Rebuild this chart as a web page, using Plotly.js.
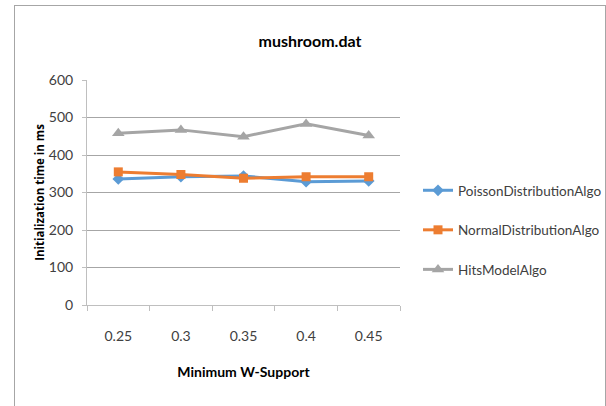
<!DOCTYPE html>
<html><head><meta charset="utf-8">
<script src="https://cdn.plot.ly/plotly-3.0.1.min.js"></script>
<style>
html,body{margin:0;padding:0;background:#fff;}
#wrap{position:relative;width:606px;height:406px;}
#chart{width:606px;height:406px;}
#frame{position:absolute;left:14px;top:5px;width:590px;height:420px;border:1px solid #a6a6a6;pointer-events:none;}
</style></head>
<body>
<div id="wrap"><div id="chart"></div><div id="frame"></div></div>
<script>
const categories = ['0.25','0.3','0.35','0.4','0.45'];
const poisson = [336, 342, 344, 329, 331];
const normal = [355, 348, 338, 342, 342];
const hits = [458, 467, 449, 483, 452];
const seriesNames = ['PoissonDistributionAlgo','NormalDistributionAlgo','HitsModelAlgo'];
const yTicks = [0,100,200,300,400,500,600];

const font = 'Lato, "Open Sans", sans-serif';
function tr(y, name, color, symbol, size, g){
  return {x: categories, y: y, name: name, type:'scatter', mode:'lines+markers',
    line:{color:color, width:3}, marker:{color:color, symbol:symbol, size:size},
    legendgroup:g};
}
const data = [
  tr(poisson, seriesNames[0], '#5B9BD5', 'diamond', 9, 'a'),
  tr(normal, seriesNames[1], '#ED7D31', 'square', 9, 'b'),
  tr(hits, seriesNames[2], '#A5A5A5', 'triangle-up', 11, 'c')
];
const layout = {
  width:606, height:406,
  margin:{l:87, r:206, t:80, b:101, autoexpand:false},
  paper_bgcolor:'#fff', plot_bgcolor:'#fff',
  font:{family:font, size:14, color:'#404040'},
  title:{text:'<b>mushroom.dat</b>', x:310/606, xanchor:'center', y:1-41/406, yanchor:'middle',
    font:{family:font, size:16, color:'#000'}},
  xaxis:{type:'category', range:[-0.5,4.5], tickson:'boundaries', ticks:'outside', ticklen:5,
    tickcolor:'#bfbfbf', showline:true, linecolor:'#bfbfbf', linewidth:1, showgrid:false,
    ticklabelstandoff:18, tickfont:{family:font, size:14, color:'#404040'},
    title:{text:'<b>Minimum W-Support</b>', standoff:24, font:{family:font, size:14, color:'#000'}}},
  yaxis:{range:[0,600], tickvals:yTicks, ticks:'outside', ticklen:4, tickcolor:'#bfbfbf',
    showline:true, linecolor:'#bfbfbf', linewidth:1, gridcolor:'#a6a6a6', gridwidth:1,
    zeroline:false, ticklabelstandoff:6, tickfont:{family:font, size:14, color:'#404040'},
    title:{text:'<b>Initialization time in ms</b>', standoff:1, font:{family:'"Open Sans", sans-serif', size:11.5, color:'#000'}}},
  legend:{x:(418-87)/313, xanchor:'left', y:(305-175)/225, yanchor:'top', traceorder:'grouped', tracegroupgap:19,
    font:{family:font, size:13.5, color:'#404040'}, itemwidth:30, bgcolor:'rgba(0,0,0,0)'},
  showlegend:true
};
Plotly.newPlot('chart', data, layout, {displayModeBar:false, staticPlot:true});
</script>
</body></html>
